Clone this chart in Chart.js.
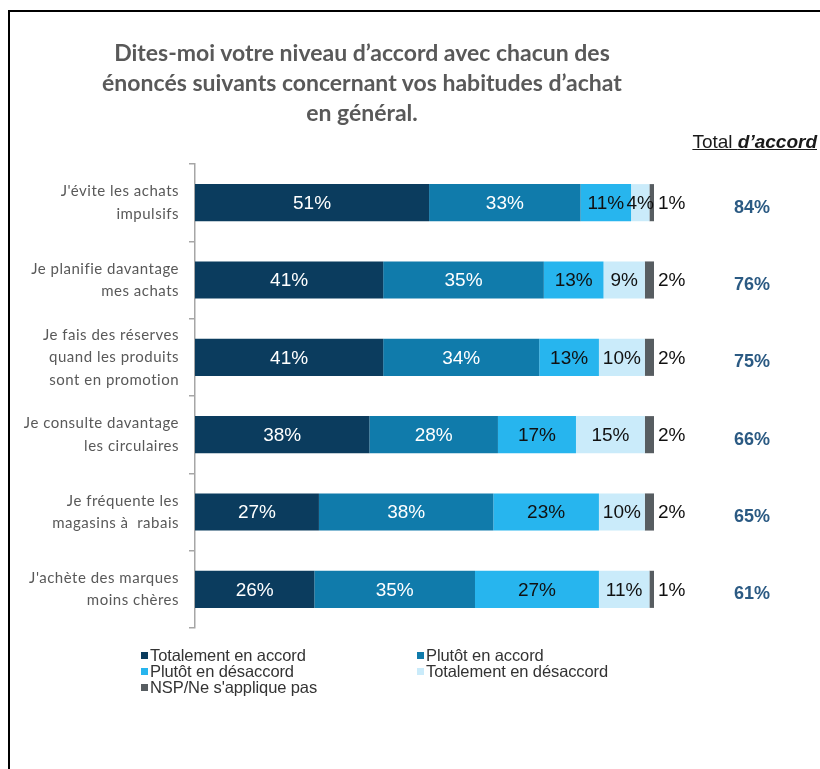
<!DOCTYPE html>
<html lang="fr">
<head>
<meta charset="utf-8">
<script src="https://cdn.jsdelivr.net/npm/chart.js@4.4.1/dist/chart.umd.min.js"></script>
<style>
  html, body { margin: 0; padding: 0; background: #fff; }
  #page { position: relative; width: 820px; height: 769px; overflow: hidden; }
  #frame { position: absolute; left: 8px; top: 10px; width: 830px; height: 800px;
           border-left: 2px solid #000; border-top: 2px solid #000; }
  #chart { position: absolute; left: 0; top: 0; }
  #title { position: absolute; left: 12px; width: 700px; top: 37px; text-align: center;
           font: bold 23px Lato, "Open Sans", sans-serif; line-height: 30px; color: #595959; }
  #total-head { position: absolute; right: 3px; top: 131px; font: 19px "Liberation Sans", Arial, sans-serif;
                color: #1a1a1a; text-decoration: underline; }
  #total-head b { font-style: italic; }
  #legend { position: absolute; left: 141px; top: 647px; font: 16.5px "Liberation Sans", Arial, sans-serif;
            letter-spacing: -0.1px; color: #333; line-height: 16px; display: grid;
            grid-template-columns: 276px 260px; }
  #legend .item { display: flex; align-items: center; white-space: nowrap; }
  #legend .box { width: 7px; height: 7px; margin-right: 2px; }
</style>
</head>
<body>
<div id="page">
  <div id="frame"></div>
  <canvas id="chart" width="820" height="769"></canvas>
  <div id="title">Dites-moi votre niveau d’accord avec chacun des<br>énoncés suivants concernant vos habitudes d’achat<br>en général.</div>
  <div id="total-head">Total <b>d’accord</b></div>
  <div id="legend"></div>
</div>
<script>
const categories = [
    ["J'évite les achats", "impulsifs"],
    ["Je planifie davantage", "mes achats"],
    ["Je fais des réserves", "quand les produits", "sont en promotion"],
    ["Je consulte davantage", "les circulaires"],
    ["Je fréquente les", "magasins à  rabais"],
    ["J'achète des marques", "moins chères"],
];
const seriesNames = [
    "Totalement en accord",
    "Plutôt en accord",
    "Plutôt en désaccord",
    "Totalement en désaccord",
    "NSP/Ne s'applique pas",
];
const totalementAccord = [51, 41, 41, 38, 27, 26];
const plutotAccord = [33, 35, 34, 28, 38, 35];
const plutotDesaccord = [11, 13, 13, 17, 23, 27];
const totalementDesaccord = [4, 9, 10, 15, 10, 11];
const nsp = [1, 2, 2, 2, 2, 1];
const totalAccord = [84, 76, 75, 66, 65, 61];

const colors = ["#0b3c5e", "#107bab", "#27b5ee", "#caebfa", "#575d61"];
const labelColors = ["#ffffff", "#ffffff", "#111111", "#111111", "#111111"];
const seriesValues = [totalementAccord, plutotAccord, plutotDesaccord, totalementDesaccord, nsp];

// legend in two columns, same order as the original
const legendEl = document.getElementById("legend");
seriesNames.forEach((name, i) => {
    const item = document.createElement("div");
    item.className = "item";
    item.innerHTML = '<span class="box" style="background:' + colors[i] + '"></span>' + name;
    legendEl.appendChild(item);
});

// the category labels are drawn a little spaced out, like the original
const labelSpacing = {
    id: "labelSpacing",
    beforeDraw(chart) { chart.ctx.letterSpacing = "0.5px"; },
    beforeDatasetsDraw(chart) { chart.ctx.letterSpacing = "0px"; },
};

const barLabels = {
    id: "barLabels",
    afterDatasetsDraw(chart) {
        const ctx = chart.ctx;
        ctx.save();
        ctx.font = '19px "Liberation Sans", Arial, sans-serif';
        ctx.textBaseline = "middle";
        chart.data.datasets.forEach((ds, di) => {
            const meta = chart.getDatasetMeta(di);
            meta.data.forEach((bar, i) => {
                const text = ds.data[i] + "%";
                ctx.fillStyle = labelColors[di];
                if (di === seriesValues.length - 1) {
                    ctx.textAlign = "left";
                    ctx.fillText(text, bar.x + 4, bar.y + 1);
                } else {
                    ctx.textAlign = "center";
                    ctx.fillText(text, (bar.x + bar.base) / 2, bar.y + 1);
                }
            });
        });
        // total d'accord column
        ctx.font = 'bold 18px "Liberation Sans", Arial, sans-serif';
        ctx.fillStyle = "#2b5a83";
        ctx.textAlign = "center";
        chart.getDatasetMeta(0).data.forEach((bar, i) => {
            ctx.fillText(totalAccord[i] + "%", 752, bar.y + 5);
        });
        ctx.restore();
    },
};

new Chart(document.getElementById("chart"), {
    type: "bar",
    data: {
        labels: categories,
        datasets: seriesNames.map((name, i) => ({
            label: name,
            data: seriesValues[i],
            backgroundColor: colors[i],
            borderWidth: 0,
            categoryPercentage: 1,
            barPercentage: 0.48,
        })),
    },
    options: {
        indexAxis: "y",
        responsive: false,
        animation: false,
        layout: { padding: { left: 0, right: 166, top: 164, bottom: 141 } },
        plugins: {
            legend: { display: false },
            title: { display: false },
            tooltip: { enabled: false },
        },
        scales: {
            x: { stacked: true, min: 0, max: 100, display: false },
            y: {
                stacked: true,
                afterFit(scale) { scale.width = 195; },
                border: { display: true, color: "#a6a6a6", width: 1.5 },
                grid: { drawOnChartArea: false, offset: true, tickLength: 6, color: "#a6a6a6", lineWidth: 1.5 },
                ticks: {
                    padding: 10,
                    color: "#595959",
                    font: { family: "Lato, 'Open Sans', sans-serif", size: 15, lineHeight: 1.5 },
                },
            },
        },
    },
    plugins: [labelSpacing, barLabels],
});
</script>
</body>
</html>
